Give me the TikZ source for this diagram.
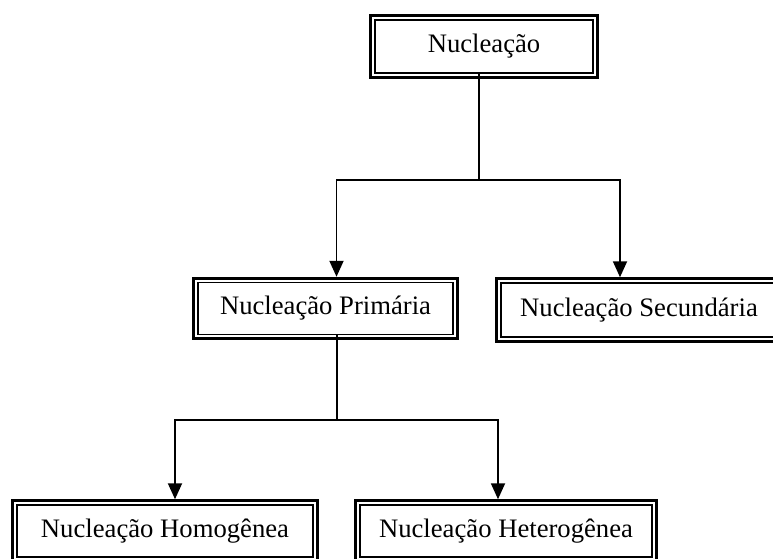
\documentclass[tikz,border=0pt]{standalone}
\usepackage{fontspec}
\setmainfont{Liberation Serif}
\usetikzlibrary{arrows.meta}

\tikzset{every picture/.style={line width=0.75pt}}
\tikzset{
	classbox/.style={draw, line width=1.1pt, fill=white, align=center, inner sep=0.75pt, font=\fontsize{20}{24}\selectfont},
	outerframe/.style={draw, line width=2.3pt},
	branch/.style={line width=1.4pt, -{Triangle[length=12pt,width=10.5pt]}},
	stem/.style={line width=0.9pt}}

\begin{document}
\begin{tikzpicture}[x=0.75pt,y=0.75pt,yscale=-1,xscale=1]
	\useasboundingbox (0,0) rectangle (773,559);
	\clip (0,0) rectangle (773,559);
	
	% Text Node
	\node [classbox, minimum width=163.5pt, minimum height=39.75pt] (nuc) at (484,46.5) {Nucleação};
	% Text Node
	\node [classbox, minimum width=191.25pt, minimum height=39pt] (prim) at (325.5,308.5) {Nucleação Primária};
	% Text Node
	\node [classbox, minimum width=207pt, minimum height=40.5pt] (sec) at (639,310) {Nucleação Secundária};
	% Text Node
	\node [classbox, minimum width=222pt, minimum height=39pt] (homo) at (165,531) {Nucleação Homogênea};
	% Text Node
	\node [classbox, minimum width=219pt, minimum height=39pt] (hetero) at (506,531) {Nucleação Heterogênea};
	
	% thick outer frames
	\foreach \n in {nuc,prim,sec,homo,hetero}
		\draw [outerframe] ([shift={(-3.6,-3.6)}]\n.north west) rectangle ([shift={(3.6,3.6)}]\n.south east);
	
	% junctions
	\coordinate (hubA) at (479,180);
	\coordinate (hubB) at (337,420);
	
	%Straight Lines
	\draw [stem] (hubA |- nuc.south) -- (hubA);
	\draw [branch] (hubA) -| ([shift={(11,-5)}]prim.north);
	\draw [branch] (hubA) -| ([shift={(-19,-5)}]sec.north);
	%Straight Lines
	\draw [stem] (hubB |- prim.south) -- (hubB);
	\draw [branch] (hubB) -| ([shift={(10,-5)}]homo.north);
	\draw [branch] (hubB) -| ([shift={(-8,-5)}]hetero.north);
	
\end{tikzpicture}
\end{document}
